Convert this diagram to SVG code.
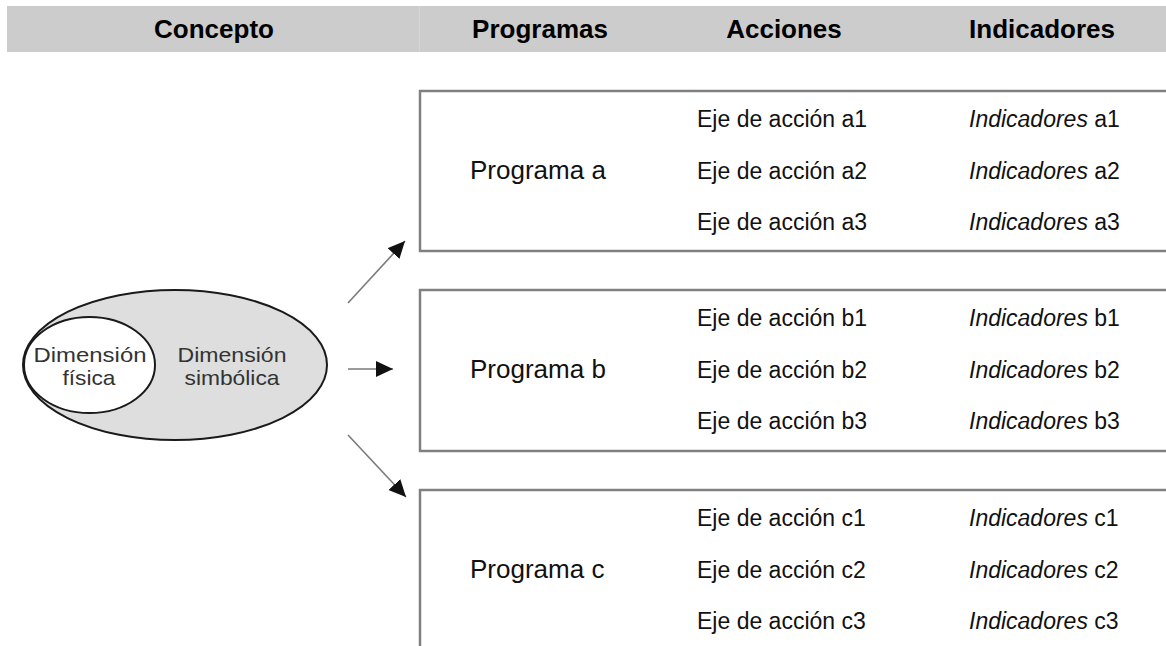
<svg xmlns="http://www.w3.org/2000/svg" width="1166" height="646" viewBox="0 0 1166 646">
<style>
text{font-family:"Liberation Sans",Arial,Helvetica,sans-serif;}
.hdr{font-size:26px;font-weight:bold;fill:#000;text-anchor:middle;}
.box{fill:#fff;stroke:#808080;stroke-width:2.5;}
.prog{font-size:26px;fill:#111;}
.row{font-size:23px;fill:#111;}
.it{font-style:italic;}
.dim{font-size:21px;fill:#333;text-anchor:middle;}
.conn{stroke:#7a7a7a;stroke-width:1.6;fill:none;marker-end:url(#ah);}
</style>
<defs>
<marker id="ah" viewBox="0 0 17 16" refX="17" refY="8" markerWidth="17" markerHeight="16" markerUnits="userSpaceOnUse" orient="auto">
<path d="M0,0 L17,8 L0,16 z" fill="#111"/>
</marker>
</defs>
<rect width="1166" height="646" fill="#fff"/>
<g id="header">
<rect x="7" y="6" width="1159" height="46" fill="#cccccc"/>
<line x1="419.5" y1="6" x2="419.5" y2="52" stroke="#d6d6d6" stroke-width="1"/>
<text class="hdr" x="214" y="38">Concepto</text>
<text class="hdr" x="540" y="38">Programas</text>
<text class="hdr" x="784" y="38">Acciones</text>
<text class="hdr" x="1042" y="38">Indicadores</text>
</g>
<g id="concepto">
<ellipse cx="175" cy="365" rx="152" ry="75" fill="#dedede" stroke="#1a1a1a" stroke-width="2"/>
<ellipse cx="89.5" cy="365" rx="65.5" ry="48" fill="#fff" stroke="#1a1a1a" stroke-width="2"/>
<text class="dim" x="90" y="362" textLength="113" lengthAdjust="spacingAndGlyphs">Dimensión</text>
<text class="dim" x="89" y="385" textLength="53" lengthAdjust="spacingAndGlyphs">física</text>
<text class="dim" x="232" y="362" textLength="109" lengthAdjust="spacingAndGlyphs">Dimensión</text>
<text class="dim" x="232" y="385" textLength="95" lengthAdjust="spacingAndGlyphs">simbólica</text>
</g>
<g id="connectors">
<line class="conn" x1="348" y1="303" x2="405" y2="241"/>
<line class="conn" x1="348" y1="369" x2="393" y2="369"/>
<line class="conn" x1="348" y1="435" x2="406" y2="497"/>
</g>
<g id="programa-a">
<rect class="box" x="420" y="91" width="760" height="160"/>
<text class="prog" x="470" y="179">Programa a</text>
<text class="row" x="697" y="127">Eje de acción a1</text>
<text class="row" x="697" y="179">Eje de acción a2</text>
<text class="row" x="697" y="230">Eje de acción a3</text>
<text class="row" x="969" y="127"><tspan class="it">Indicadores</tspan> a1</text>
<text class="row" x="969" y="179"><tspan class="it">Indicadores</tspan> a2</text>
<text class="row" x="969" y="230"><tspan class="it">Indicadores</tspan> a3</text>
</g>
<g id="programa-b">
<rect class="box" x="420" y="290" width="760" height="161"/>
<text class="prog" x="470" y="378">Programa b</text>
<text class="row" x="697" y="326">Eje de acción b1</text>
<text class="row" x="697" y="378">Eje de acción b2</text>
<text class="row" x="697" y="429">Eje de acción b3</text>
<text class="row" x="969" y="326"><tspan class="it">Indicadores</tspan> b1</text>
<text class="row" x="969" y="378"><tspan class="it">Indicadores</tspan> b2</text>
<text class="row" x="969" y="429"><tspan class="it">Indicadores</tspan> b3</text>
</g>
<g id="programa-c">
<rect class="box" x="420" y="490" width="760" height="170"/>
<text class="prog" x="470" y="578">Programa c</text>
<text class="row" x="697" y="526">Eje de acción c1</text>
<text class="row" x="697" y="578">Eje de acción c2</text>
<text class="row" x="697" y="629">Eje de acción c3</text>
<text class="row" x="969" y="526"><tspan class="it">Indicadores</tspan> c1</text>
<text class="row" x="969" y="578"><tspan class="it">Indicadores</tspan> c2</text>
<text class="row" x="969" y="629"><tspan class="it">Indicadores</tspan> c3</text>
</g>
</svg>
